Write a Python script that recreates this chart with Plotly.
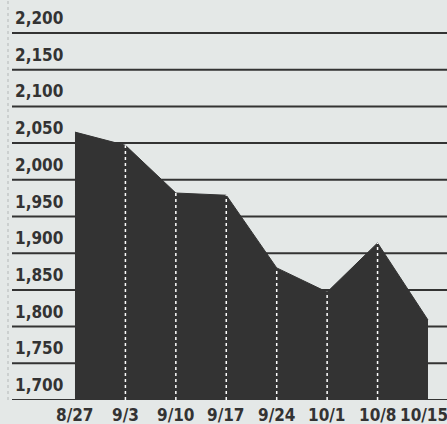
import plotly.graph_objects as go

dates = ["8/27", "9/3", "9/10", "9/17", "9/24", "10/1", "10/8", "10/15"]
values = [2065, 2047, 1982, 1979, 1880, 1847, 1914, 1809]
y_ticks = [1700, 1750, 1800, 1850, 1900, 1950, 2000, 2050, 2100, 2150, 2200]
y_labels = ["1,700", "1,750", "1,800", "1,850", "1,900", "1,950", "2,000", "2,050", "2,100", "2,150", "2,200"]

BG = "#e4e8e7"
DARK = "#333333"
FONT = "DejaVu Sans Condensed"

xs = list(range(len(dates)))
fig = go.Figure()

fig.add_trace(go.Scatter(
    x=xs, y=values, mode="lines", fill="tozeroy",
    line=dict(color=DARK, width=1), fillcolor=DARK, hoverinfo="skip", showlegend=False))

for i in xs[1:-1]:
    fig.add_trace(go.Scatter(
        x=[i, i], y=[y_ticks[0], values[i]], mode="lines",
        line=dict(color="white", width=1.5, dash="dot"), hoverinfo="skip", showlegend=False))

shapes = []
for v in y_ticks:
    shapes.append(dict(type="line", xref="paper", yref="y", x0=12/447, x1=1, y0=v, y1=v,
                       line=dict(color=DARK, width=2), layer="below"))
shapes.append(dict(type="line", xref="paper", yref="paper", x0=8/447, x1=8/447, y0=0, y1=1,
                   line=dict(color="#b4b8b8", width=1, dash="dot"), layer="below"))

annotations = []
for v, t in zip(y_ticks, y_labels):
    annotations.append(dict(xref="paper", yref="y", x=13/447, y=v, text="<b>" + t + "</b>", showarrow=False,
                            xanchor="left", yanchor="bottom", yshift=3,
                            font=dict(family=FONT, size=17, color=DARK)))
for i, t in zip(xs, dates):
    last = i == xs[-1]
    annotations.append(dict(xref="paper" if last else "x", yref="paper", x=1 if last else i, y=0,
                            text="<b>" + t + "</b>", showarrow=False,
                            xanchor="right" if last else "center", yanchor="top",
                            yshift=-3, xshift=3 if last else 0,
                            font=dict(family=FONT, size=17, color=DARK)))

fig.update_layout(
    width=447, height=424, margin=dict(l=0, r=0, t=0, b=24),
    paper_bgcolor=BG, plot_bgcolor=BG,
    shapes=shapes, annotations=annotations,
    xaxis=dict(range=[-1.487, 7.377], showticklabels=False, showgrid=False,
               zeroline=False, showline=False, ticks=""),
    yaxis=dict(range=[1700, 2245], showgrid=False, zeroline=False, showticklabels=False,
               showline=False),
)

fig.write_html("out.html")
